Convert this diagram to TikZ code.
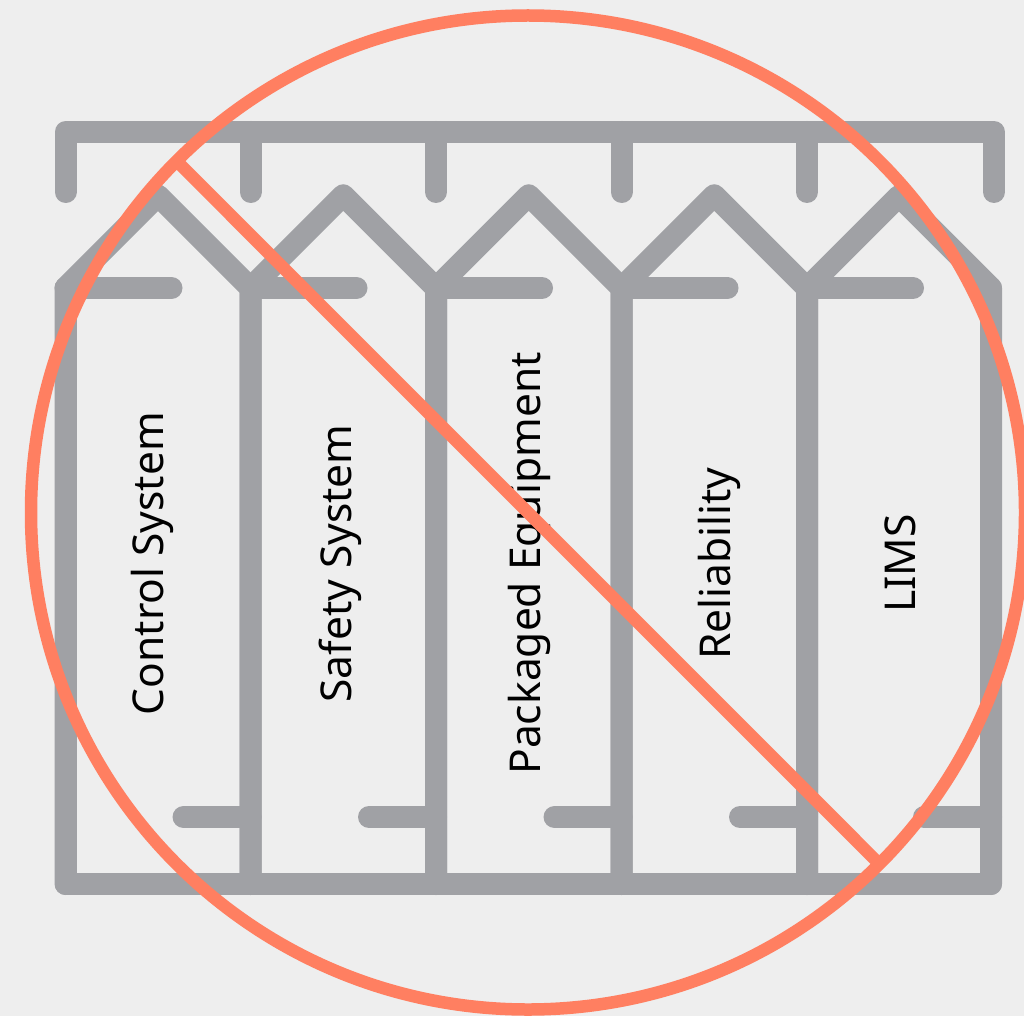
\documentclass[tikz,border=0pt]{standalone}
\usepackage{fontspec}
\setmainfont{Noto Sans}
\definecolor{bg}{HTML}{EEEEEE}
\definecolor{icongray}{HTML}{A0A1A5}
\definecolor{slash}{HTML}{FF7F61}
\begin{document}
\begin{tikzpicture}[x=1pt,y=-1pt,
  iconline/.style={draw=icongray,line width=22pt,line cap=round,line join=round},
  slashline/.style={draw=slash,line width=12.5pt},
  lbl/.style={rotate=90,anchor=base,inner sep=0pt,font=\fontsize{42.5}{48}\selectfont,text=black}]
\useasboundingbox (0,0) rectangle (1024,1016);
\clip (0,0) rectangle (1024,1016);
\fill[bg] (0,0) rectangle (1024,1016);
% top bar with hooks
\draw[iconline] (65.5,192) -- (65.5,132) -- (994,132) -- (994,192);
\foreach \x in {250.5,436,621.5,807} \draw[iconline] (\x,132) -- (\x,192);
% bottom frame
\draw[iconline] (65.5,288) -- (65.5,884) -- (991,884) -- (991,288);
% columns (pentagon arrows)
\foreach \a/\b in {65.5/250.5,250.5/436,436/621.5,621.5/807,807/991}{
  \pgfmathsetmacro{\m}{(\a+\b)/2}
  \pgfmathsetmacro{\t}{288-(\b-\a)/2}
  \draw[iconline] (\a,884) -- (\a,288) -- (\m,\t) -- (\b,288) -- (\b,884);
  \draw[iconline] (\a,288) -- ({\a+106},288);
  \draw[iconline] (\b,817) -- ({\b-67},817);
}
% labels
\node[lbl] (t1) at (163,563.5) {Control System};
\node[lbl] (t2) at (351,563.5) {Safety System};
\node[lbl] (t3) at (540,563.5) {Packaged Equipment};
\node[lbl] (t4) at (730,563.5) {Reliability};
\node[lbl] (t5) at (915,563.5) {LIMS};
% prohibition sign
\coordinate (c) at (528,512.5);
\draw[slashline] (c) circle[radius=497];
\draw[slashline] (176.6,161) -- (879.4,864);
\end{tikzpicture}
\end{document}
